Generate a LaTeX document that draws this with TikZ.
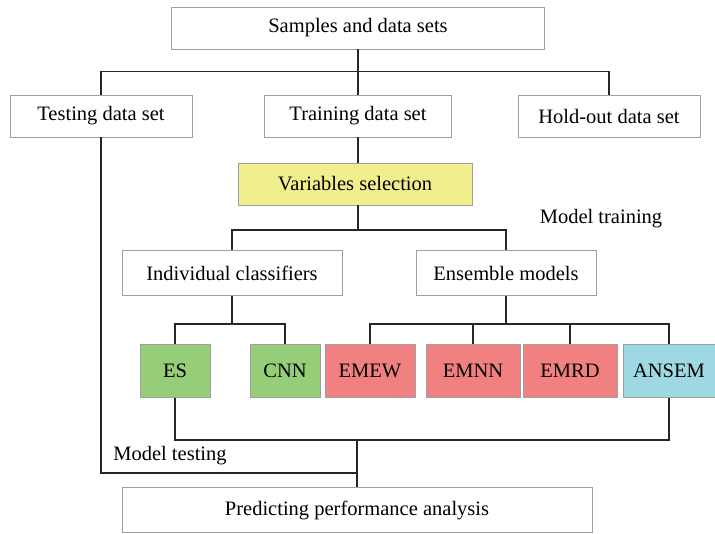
\documentclass[tikz,border=0pt]{standalone}
\usepackage{fontspec}
\setmainfont{Liberation Serif}

\begin{document}
\begin{tikzpicture}[x=1pt,y=-1pt,
  box/.style={draw=gray!75,line width=.9pt,minimum height=42pt,
    inner sep=0pt,font=\fontsize{20.5}{22}\selectfont},
  model/.style={box,minimum height=53pt},
  link/.style={draw=black!85,line width=1.1pt},
  tag/.style={inner sep=0pt,font=\fontsize{20.5}{22}\selectfont}]
 \definecolor{c1}{RGB}{149,205,121}
 \definecolor{c2}{RGB}{241,128,128}
 \definecolor{c3}{RGB}{158,216,226}
 \definecolor{c4}{RGB}{241,238,142}
 \useasboundingbox (0,0) rectangle (715,533);
 % data sets
 \node[box,minimum width=373pt] (samples) at (358,28) {Samples and data sets};
 \node[box,minimum width=182pt] (testing) at (101,116) {Testing data set};
 \node[box,minimum width=187pt] (training) at (358,116) {Training data set};
 \node[box,minimum width=182pt] (holdout) at (609,116) {Hold-out data set};
 \node[box,fill=c4,minimum width=234pt] (varsel) at (355,184) {Variables selection};
 \node[tag] (train) at (601,219) {Model training};
 \node[box,minimum width=220pt,minimum height=45pt] (indiv) at (232,273) {Individual classifiers};
 \node[box,minimum width=180pt,minimum height=45pt] (ensemble) at (506,273) {Ensemble models};
 % models
 \foreach \nm/\txt/\col/\xp/\wid in {
   es/ES/c1/175/70, cnn/CNN/c1/285/70,
   emew/EMEW/c2/370/90, emnn/EMNN/c2/473/94,
   emrd/EMRD/c2/570/94, ansem/ANSEM/c3/669/92
 } {
   \node[model,fill=\col,minimum width=\wid pt] (\nm) at (\xp,371) {\txt};
 }
 \node[tag] (test) at (170,456) {Model testing};
 \node[box,minimum width=470pt,minimum height=45pt] (predict) at (357,510) {Predicting performance analysis};
 \coordinate (split1) at (358,230);
 \coordinate (split2) at (232,324);
 \coordinate (split3) at (506,324);
 \coordinate (join) at (357,440);
 \coordinate (merge) at (357,473);
 % connectors
 \path[link] (samples) -- (training);
 \path[link] (testing.north) -- ++(0,-23) -| (holdout.north);
 \path[link] (training.south) -- (training.south |- varsel.north);
 \path[link] (split1 |- varsel.south) -- (split1);
 \path[link] (indiv.north) |- (split1) -| (ensemble.north);
 \path[link] (indiv) -- (split2);
 \path[link] (es.north) |- (split2) -| (cnn.north);
 \path[link] (ensemble) -- (split3);
 \path[link] (emew.north) |- (split3) -| (ansem.north);
 \path[link] (emnn.north) -- (emnn.north |- split3);
 \path[link] (emrd.north) -- (emrd.north |- split3);
 \path[link] (es.south) |- (join) -| (ansem.south);
 \path[link] (join) -- (predict.north);
 \path[link] (testing.south) |- (merge);
\end{tikzpicture}
\end{document}
